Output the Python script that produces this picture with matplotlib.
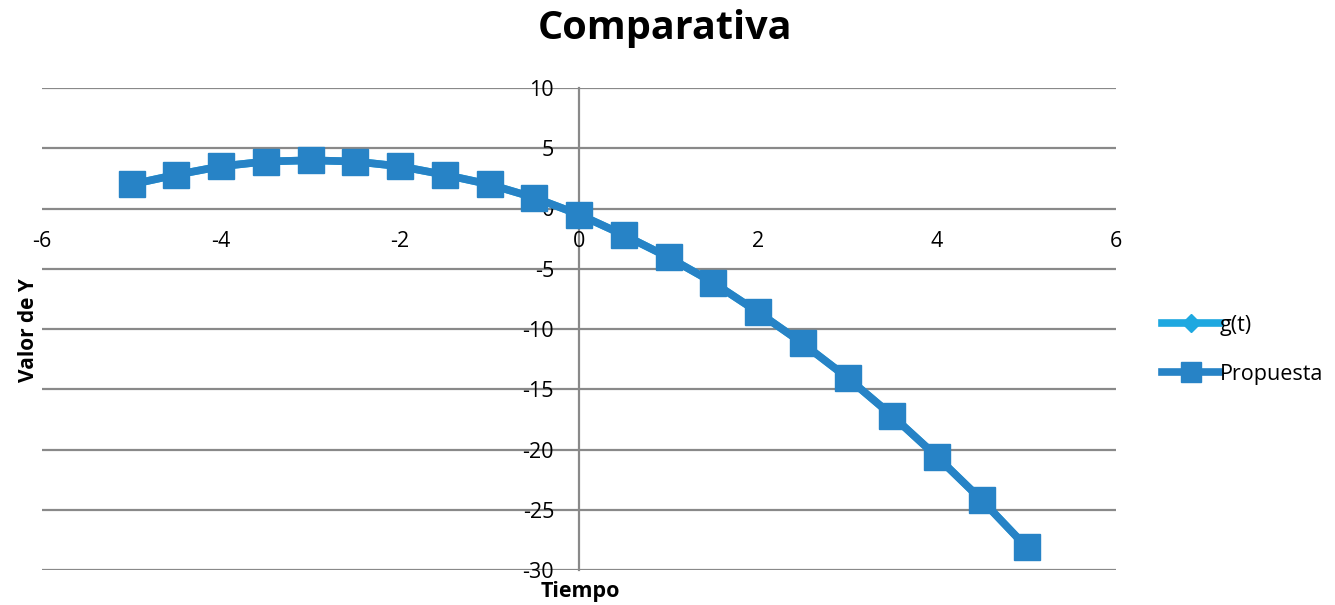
import matplotlib
matplotlib.use("Agg")
import matplotlib.pyplot as plt

t = [-5, -4.5, -4, -3.5, -3, -2.5, -2, -1.5, -1, -0.5, 0, 0.5, 1, 1.5, 2, 2.5, 3, 3.5, 4, 4.5, 5]
g_t = [2.0, 2.8, 3.5, 3.9, 4.0, 3.9, 3.5, 2.8, 2.0, 0.9, -0.5, -2.2, -4.05, -6.15, -8.6, -11.2, -14.05, -17.2, -20.6, -24.2, -28.1]
propuesta = [2.0, 2.8, 3.5, 3.9, 4.0, 3.9, 3.5, 2.8, 2.0, 0.9, -0.5, -2.2, -4.05, -6.15, -8.6, -11.2, -14.05, -17.2, -20.6, -24.2, -28.1]
x_ticks = [-6, -4, -2, 0, 2, 4, 6]
y_ticks = [-30, -25, -20, -15, -10, -5, 0, 5, 10]

plt.rcParams['font.family'] = ['Open Sans', 'DejaVu Sans']

fig = plt.figure(figsize=(13.35, 6.05), dpi=100)
ax = fig.add_axes([42/1335, 1-570/605, (1116-42)/1335, (570-88)/605])

ax.set_xlim(-6, 6)
ax.set_ylim(-30, 10)

grid_c = '#898989'
for y in y_ticks:
    ax.axhline(y, color=grid_c, lw=1.6, zorder=1)
for s in ax.spines.values():
    s.set_visible(False)
ax.spines['left'].set_visible(True)
ax.spines['left'].set_position(('data', 0))
ax.spines['left'].set_color(grid_c)
ax.spines['left'].set_linewidth(1.6)
ax.spines['left'].set_zorder(1)
ax.spines['bottom'].set_position(('data', 0))

ax.set_xticks(x_ticks)
ax.set_yticks(y_ticks)
ax.set_xticklabels([str(v) for v in x_ticks])
ax.set_yticklabels([str(v) for v in y_ticks])
ax.tick_params(axis='both', length=0, labelsize=15.5, colors='black')
ax.tick_params(axis='x', pad=16)
ax.tick_params(axis='y', pad=18)

ax.plot(t, g_t, color='#1EA8E0', lw=5.5, marker='D', markersize=12, label='g(t)', zorder=3)
ax.plot(t, propuesta, color='#2783C6', lw=5.5, marker='s', markersize=18.5, label='Propuesta', zorder=4)

fig.text(665/1335, 1-28/605, 'Comparativa', ha='center', va='center', fontsize=28.5, fontweight='bold')
fig.text(580/1335, 1-591/605, 'Tiempo', ha='center', va='center', fontsize=15.5, fontweight='bold')
fig.text(28/1335, 1-330/605, 'Valor de Y', ha='center', va='center', fontsize=15, fontweight='bold', rotation=90)

leg = fig.legend(loc='upper left', bbox_to_anchor=(1153/1335, 1-306/605), frameon=False,
                 fontsize=15.5, handlelength=2.7, handletextpad=0.0, labelspacing=1.3, markerscale=0.8,
                 borderaxespad=0)

fig.savefig('out.png', dpi=100)
